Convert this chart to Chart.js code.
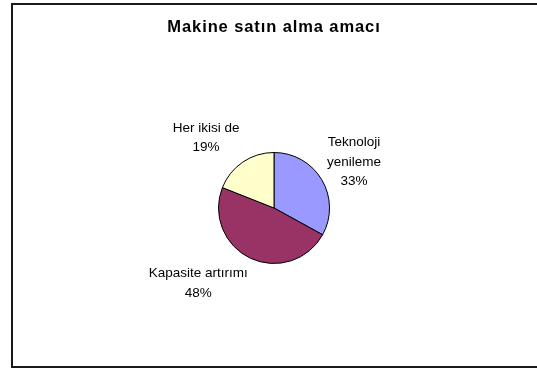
<!DOCTYPE html>
<html>
<head>
<meta charset="utf-8">
<script src="https://cdn.jsdelivr.net/npm/chart.js@4"></script>
<style>
html,body{margin:0;padding:0;background:#fff;}
#wrap{width:537px;height:370px;position:relative;}
</style>
</head>
<body>
<div id="wrap"><canvas id="c" width="537" height="370"></canvas></div>
<script>
const titleText = 'Makine satın alma amacı';
const categories = [['Teknoloji', 'yenileme'], ['Kapasite artırımı'], ['Her ikisi de']];
const percents = [33, 48, 19];
const sliceColors = ['#9999FF', '#993366', '#FFFFCC'];

const FONT = '"Liberation Sans", Arial, sans-serif';

const frame = {
  id: 'frame',
  beforeDraw(chart) {
    const ctx = chart.ctx;
    ctx.save();
    ctx.fillStyle = '#ffffff';
    ctx.fillRect(0, 0, chart.width, chart.height);
    ctx.fillStyle = '#1a1a1a';
    ctx.fillRect(11, 3, chart.width - 11, 2);
    ctx.fillRect(11, 3, 2, 366 - 3 + 2);
    ctx.fillRect(11, 366, chart.width - 11, 2);
    ctx.restore();
    // slightly wider title spacing (applies to the title box drawn next)
    if ('letterSpacing' in ctx) ctx.letterSpacing = '0.9px';
  },
  beforeDatasetsDraw(chart) {
    if ('letterSpacing' in chart.ctx) chart.ctx.letterSpacing = '0px';
  }
};

const sliceLabels = {
  id: 'sliceLabels',
  afterDatasetsDraw(chart, args, opts) {
    const ctx = chart.ctx;
    const meta = chart.getDatasetMeta(0);
    const lh = opts.lineHeight;
    ctx.save();
    ctx.font = opts.font;
    ctx.fillStyle = '#000';
    ctx.textAlign = 'center';
    ctx.textBaseline = 'middle';
    meta.data.forEach((arc, i) => {
      const p = arc.getProps(['x', 'y', 'startAngle', 'endAngle', 'outerRadius'], true);
      const mid = (p.startAngle + p.endAngle) / 2;
      const dx = Math.cos(mid), dy = Math.sin(mid);
      const rr = p.outerRadius + opts.gap;
      const px = p.x + dx * rr, py = p.y + dy * rr;
      const lines = categories[i].concat([percents[i] + '%']);
      let w = 0;
      lines.forEach(t => { w = Math.max(w, ctx.measureText(t).width); });
      const h = lines.length * lh;
      const f = opts.shift[i];
      const cx = px + Math.sign(dx) * f[0] * w / 2;
      const cy = py + Math.sign(dy) * f[1] * h / 2;
      lines.forEach((t, k) => {
        ctx.fillText(t, cx, cy - h / 2 + lh / 2 + k * lh);
      });
    });
    ctx.restore();
  }
};

new Chart(document.getElementById('c'), {
  type: 'pie',
  data: {
    labels: categories.map(c => c.join(' ')),
    datasets: [{
      data: percents,
      backgroundColor: sliceColors,
      borderColor: '#000000',
      borderWidth: 1,
      borderAlign: 'center'
    }]
  },
  options: {
    responsive: false,
    animation: false,
    radius: 55.5,
    layout: { padding: { left: 20, right: 9, top: 0, bottom: 14 } },
    plugins: {
      legend: { display: false },
      tooltip: { enabled: false },
      title: {
        display: true,
        text: titleText,
        color: '#000',
        font: { family: FONT, size: 16.5, weight: 'bold', lineHeight: 1.2 },
        padding: { top: 18, bottom: 22.2 }
      },
      sliceLabels: {
        font: '13.5px ' + FONT,
        lineHeight: 19.5,
        gap: 6,
        shift: [[1, 0.5], [1, 1], [1, 1]]
      }
    }
  },
  plugins: [frame, sliceLabels]
});
</script>
</body>
</html>
